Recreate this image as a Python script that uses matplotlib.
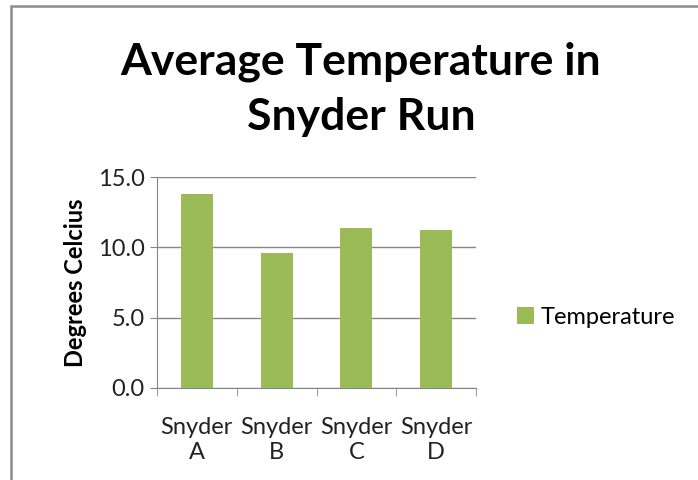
import matplotlib.pyplot as plt
from matplotlib.patches import Rectangle
import numpy as np

sites = ['Snyder\nA', 'Snyder\nB', 'Snyder\nC', 'Snyder\nD']
temperature = [13.8, 9.6, 11.4, 11.2]
yticks = [0.0, 5.0, 10.0, 15.0]

plt.rcParams['font.family'] = ['Lato', 'DejaVu Sans']

fig = plt.figure(figsize=(6.98, 4.80), dpi=100)
W, H = 698, 480

# outer chart border (only left and top visible in the crop)
fig.patches.append(Rectangle((11.5 / W, -0.05), 1.0, (H - 6) / H + 0.05,
                             transform=fig.transFigure, fill=False, clip_on=False,
                             edgecolor='#8c8c8c', linewidth=1.8))

ax = fig.add_axes([157 / W, (H - 388) / H, (476 - 157) / W, (388 - 177) / H])
x = np.arange(len(sites))
ax.bar(x, temperature, width=0.4, color='#9bbb59', label='Temperature', zorder=3)

ax.set_xlim(-0.5, len(sites) - 0.5)
ax.set_ylim(0, 15)
ax.set_yticks(yticks)
ax.set_yticklabels(['%.1f' % v for v in yticks])
ax.set_xticks(x)
ax.set_xticklabels(sites, linespacing=1.25)
ax.set_xticks(np.arange(-0.5, len(sites)), minor=True)
ax.tick_params(axis='x', which='major', length=0, pad=21, labelsize=17, colors='#222222')
ax.tick_params(axis='x', which='minor', length=6, color='#868686')
ax.tick_params(axis='y', length=5, color='#868686', labelsize=17, pad=4, labelcolor='#222222')
ax.grid(axis='y', color='#868686', linewidth=1, zorder=0)

for s in ['top', 'right']:
    ax.spines[s].set_visible(False)
for s in ['left', 'bottom']:
    ax.spines[s].set_color('#868686')

ax.set_ylabel('Degrees Celcius', fontsize=17, fontweight='bold', labelpad=8)

fig.text(361 / W, 1 - 42 / H, 'Average Temperature in\nSnyder Run', ha='center', va='top',
         fontsize=32, fontweight='bold', linespacing=1.45)

ax.legend(loc='center left', bbox_to_anchor=(1.1, 0.336), frameon=False, fontsize=17,
          handlelength=0.7, handleheight=0.7, handletextpad=0.3, borderaxespad=0)

fig.savefig('out.png', dpi=100)
